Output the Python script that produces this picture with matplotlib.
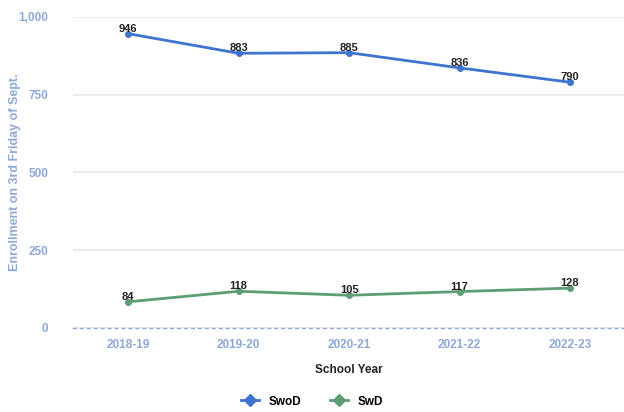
import numpy as np
import matplotlib.pyplot as plt
from matplotlib.lines import Line2D

plt.rcParams["font.family"] = ["Liberation Sans", "DejaVu Sans"]

# enrollment counts by school year
years = ["2018-19", "2019-20", "2020-21", "2021-22", "2022-23"]
swod = [946, 883, 885, 836, 790]
swd = [84, 118, 105, 117, 128]
yticks = [0, 250, 500, 750, 1000]
ytick_labels = ["0", "250", "500", "750", "1,000"]

blue = "#3f74cf"
green = "#5e9e74"
axis_blue = "#8ea8d8"

fig = plt.figure(figsize=(6.24, 4.12), dpi=100)
ax = fig.add_axes([0.117, 0.204, 0.885, 0.755])

x = np.arange(len(years))
ax.plot(x, swod, color=blue, lw=2, marker="o", ms=4)
ax.plot(x, swd, color=green, lw=2, marker="o", ms=4)

for xi, v in zip(x, swod):
    ax.text(xi, v, str(v), ha="center", va="bottom", fontsize=8,
            color="#222222", fontweight="bold")
for xi, v in zip(x, swd):
    ax.text(xi, v, str(v), ha="center", va="bottom", fontsize=8,
            color="#222222", fontweight="bold")

ax.set_xlim(-0.5, len(years) - 0.5)
ax.set_ylim(0, 1000)
ax.set_yticks(yticks)
ax.set_yticklabels(ytick_labels)
ax.set_xticks(x)
ax.set_xticklabels(years)
ax.tick_params(axis="both", length=0, labelsize=8.5, labelcolor=axis_blue)
ax.tick_params(axis="y", pad=18)
ax.tick_params(axis="x", pad=8)
for lab in ax.get_xticklabels() + ax.get_yticklabels():
    lab.set_fontweight("bold")

ax.grid(axis="y", color="#ececec", lw=1.5)
ax.set_axisbelow(True)
for s in ["top", "right", "left"]:
    ax.spines[s].set_visible(False)
ax.spines["bottom"].set_color(axis_blue)
ax.spines["bottom"].set_linestyle((0, (2, 3)))
ax.spines["bottom"].set_linewidth(1)

ax.set_ylabel("Enrollment on 3rd Friday of Sept.", color=axis_blue,
              fontsize=9, fontweight="bold")
ax.yaxis.set_label_coords(-0.094, 0.5)
ax.set_xlabel("School Year", color="#222222", fontsize=8.5, fontweight="bold",
              labelpad=9)

handles = [
    Line2D([], [], color=blue, lw=2, marker="D", ms=6),
    Line2D([], [], color=green, lw=2, marker="D", ms=6),
]
fig.legend(handles, ["SwoD", "SwD"], loc="lower center",
           bbox_to_anchor=(0.5, -0.015), ncol=2, frameon=False,
           prop={"size": 8.5, "weight": "bold"}, handlelength=1.5,
           columnspacing=2.5)

fig.savefig("out.png", dpi=100)
